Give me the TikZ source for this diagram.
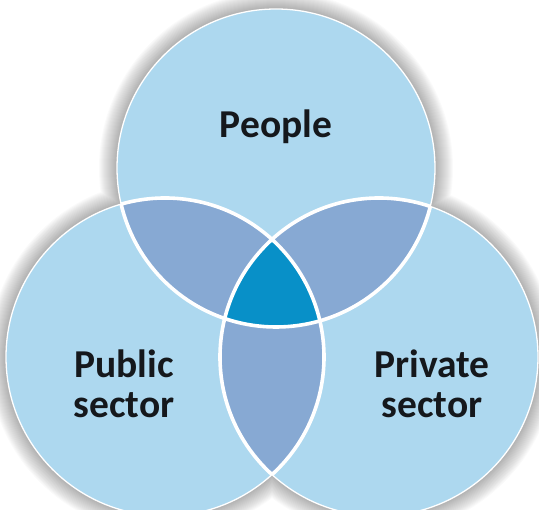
\documentclass[tikz,border=0pt]{standalone}
\usepackage{fontspec}
\setmainfont{Carlito}
\definecolor{vennlight}{HTML}{ADD8EF}
\definecolor{vennmid}{HTML}{87A9D3}
\definecolor{venncore}{HTML}{0890C8}
\definecolor{venntext}{HTML}{15181C}
\begin{document}
\begin{tikzpicture}[x=1pt,y=1pt,
		venntitle/.style={font=\bfseries\fontsize{39.5}{40}\selectfont, text=venntext, align=center},
		outer/.style={white, line width=1.3pt},
		inner/.style={white, line width=3.6pt}]
	\useasboundingbox (0,0) rectangle (539,510);
	\clip (0,0) rectangle (539,510);
	\def\R{159}
	\coordinate (T) at (276,342);
	\coordinate (L) at (165,153);
	\coordinate (R) at (379,153);
	% soft shadow round the three circles
	\foreach \k in {1,...,18}
		\fill[black,opacity=0.02] (T) circle[radius=\R+\k] (L) circle[radius=\R+\k] (R) circle[radius=\R+\k];
	\fill[vennlight] (T) circle[radius=\R] (L) circle[radius=\R] (R) circle[radius=\R];
	% overlaps
	\begin{scope}
		\clip (T) circle[radius=\R];
		\fill[vennmid] (L) circle[radius=\R] (R) circle[radius=\R];
	\end{scope}
	\begin{scope}
		\clip (L) circle[radius=\R];
		\fill[vennmid] (R) circle[radius=\R];
	\end{scope}
	\begin{scope}
		\clip (T) circle[radius=\R];
		\clip (L) circle[radius=\R];
		\fill[venncore] (R) circle[radius=\R];
	\end{scope}
	% white edges
	\draw[outer] (T) circle[radius=\R] (L) circle[radius=\R] (R) circle[radius=\R];
	\begin{scope}
		\clip (L) circle[radius=\R] (R) circle[radius=\R];
		\draw[inner] (T) circle[radius=\R];
	\end{scope}
	\begin{scope}
		\clip (T) circle[radius=\R] (R) circle[radius=\R];
		\draw[inner] (L) circle[radius=\R];
	\end{scope}
	\begin{scope}
		\clip (T) circle[radius=\R] (L) circle[radius=\R];
		\draw[inner] (R) circle[radius=\R];
	\end{scope}
	\node[venntitle, anchor=base] (people) at (276,372) {People};
	\node[venntitle] (public) at (124,126) {Public\\sector};
	\node[venntitle] (private) at (432,126) {Private\\sector};
\end{tikzpicture}
\end{document}
